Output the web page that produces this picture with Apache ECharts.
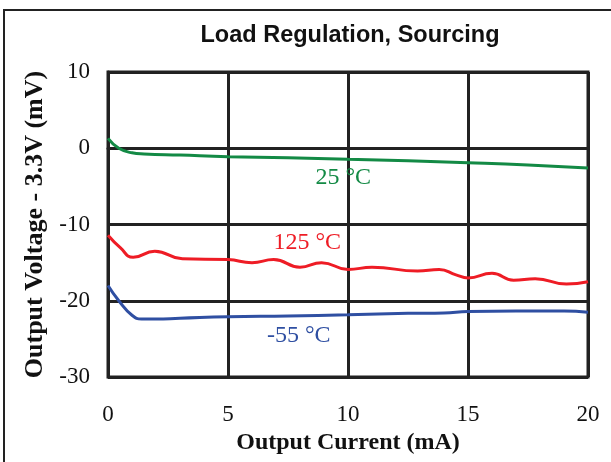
<!DOCTYPE html>
<html><head><meta charset="utf-8">
<script src="https://cdn.jsdelivr.net/npm/echarts@6/dist/echarts.min.js"></script>
<style>html,body{margin:0;padding:0;background:#fff}#c{width:611px;height:462px}</style>
</head><body><div id="c"></div>
<script>
const titleText = 'Load Regulation, Sourcing';
const xName = 'Output Current (mA)';
const yName = 'Output Voltage - 3.3V (mV)';
const xTicks = [0, 5, 10, 15, 20];
const yTicks = [-30, -20, -10, 0, 10];

const green25 = [[0,1.3],[0.45,0],[1.0,-0.6],[1.5,-0.75],[3,-0.9],[5,-1.1],[7.5,-1.25],[10,-1.45],[12.5,-1.65],[15,-1.9],[17.5,-2.2],[20,-2.6]];
const red125 = [[0,-11.4],[0.5,-13.0],[1.05,-14.3],[1.95,-13.5],[3.1,-14.5],[5,-14.6],[6.0,-15.0],[6.9,-14.6],[8.0,-15.6],[8.9,-15.0],[10,-15.9],[11.0,-15.6],[12.9,-16.1],[13.8,-15.9],[14.5,-16.6],[15,-17.0],[16,-16.4],[16.9,-17.3],[17.8,-17.1],[19.1,-17.8],[20,-17.5]];
const blueN55 = [[0,-18.0],[0.45,-20],[1.0,-21.9],[1.4,-22.4],[2,-22.4],[3,-22.3],[5,-22.1],[7.5,-22.0],[10,-21.85],[12.5,-21.65],[14,-21.6],[15,-21.4],[17,-21.35],[19,-21.35],[20,-21.5]];

const seriesNames = ['25 °C', '125 °C', '-55 °C'];
const seriesColors = ['#138a45', '#ee1c25', '#2f4fa2'];
const labelCoords = [[9.8,-3.8],[8.3,-12.35],[7.95,-24.55]];

const chart = echarts.init(document.getElementById('c'));
const datasets = [green25, red125, blueN55];
chart.setOption({
  animation: false,
  backgroundColor: '#fff',
  title: {text: titleText, left: 345, top: 19, textAlign: 'center',
    textStyle: {fontFamily: 'Liberation Sans', fontWeight: 'bold', fontSize: 23.5, color: '#111'}},
  grid: {left: 108, right: 23, top: 72, bottom: 85, show: true, borderColor: '#222', borderWidth: 3},
  xAxis: {type: 'value', min: 0, max: 20, interval: 5,
    name: xName, nameLocation: 'middle', nameGap: 47,
    nameTextStyle: {fontFamily: 'Liberation Serif', fontWeight: 'bold', fontSize: 24, color: '#111'},
    axisLine: {show: true, lineStyle: {color: '#222', width: 3}},
    axisTick: {show: false},
    axisLabel: {margin: 26, fontFamily: 'Liberation Serif', fontSize: 23, color: '#111',
      formatter: v => xTicks.includes(v) ? String(v) : ''},
    splitLine: {show: true, lineStyle: {color: '#222', width: 3}}},
  yAxis: {type: 'value', min: -30, max: 10, interval: 10,
    name: yName, nameLocation: 'middle', nameGap: 50,
    nameTextStyle: {fontFamily: 'Liberation Serif', fontWeight: 'bold', fontSize: 26, color: '#111'},
    axisLine: {show: true, lineStyle: {color: '#222', width: 3}},
    axisTick: {show: false},
    axisLabel: {margin: 18, fontFamily: 'Liberation Serif', fontSize: 23, color: '#111',
      formatter: v => yTicks.includes(v) ? String(v) : ''},
    splitLine: {show: true, lineStyle: {color: '#222', width: 3}}},
  series: datasets.map((d, i) => ({
    type: 'line', name: seriesNames[i], data: d, smooth: 0.5, showSymbol: false, symbol: 'none',
    lineStyle: {color: seriesColors[i], width: 3}, z: 3,
    markPoint: {symbol: 'circle', symbolSize: 0, silent: true,
      label: {show: true, position: 'inside', formatter: seriesNames[i],
        fontFamily: 'Liberation Serif', fontSize: 24, color: seriesColors[i]},
      data: [{coord: labelCoords[i]}]}
  })),
  graphic: [{type: 'rect', shape: {x: 4, y: 10, width: 700, height: 600},
    style: {fill: 'none', stroke: '#222', lineWidth: 2}, silent: true}]
});
</script></body></html>
